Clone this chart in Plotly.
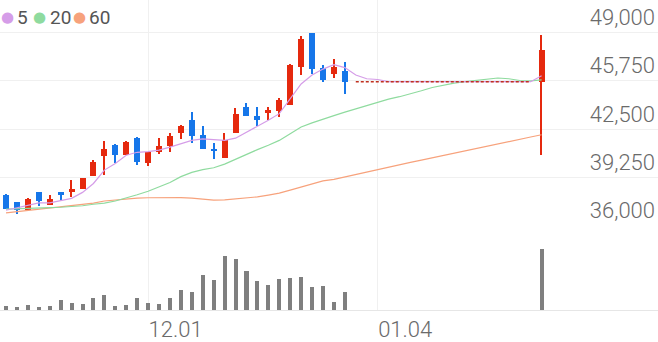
import plotly.graph_objects as go

# ---------------- data ----------------
day_idx = list(range(50))                      # trading-day index
tick_idx = [13, 34]
tick_labels = ["12.01", "01.04"]
price_ticks = [36000, 39250, 42500, 45750, 49000]

N = None
open_ = [38100, 37600, 37050, 38250, 37400, 38250, 38250, 38500, 39350, 40700,
         41450, 40800, 41900, 40200, 40950, 41350, 42250, 43150, 42100, 41200,
         40550, 42250, 44000, 43400, 43600, 43750, 44150, 46700, 49000, 46600,
         46200, 46450] + [N] * 17 + [45700]
high = [38150, 37600, 37850, 38250, 38100, 38250, 39100, 39250, 40400, 41700,
        41500, 41700, 41950, 41000, 41900, 42250, 42800, 43650, 42700, 41600,
        42250, 43950, 44250, 44000, 44000, 44600, 46900, 48800, 49000, 46800,
        47250, 47000] + [N] * 17 + [48850]
low = [37100, 36800, 37050, 37350, 37400, 37650, 37950, 38500, 39350, 39450,
       40200, 40750, 40100, 40000, 40850, 41000, 41850, 41600, 41150, 40500,
       40550, 42250, 43400, 42750, 43100, 43350, 44150, 46150, 46250, 45650,
       45950, 44850] + [N] * 17 + [40750]
close = [37150, 37050, 37800, 37650, 37800, 38050, 38500, 39200, 40300, 41200,
         40800, 41650, 40300, 40950, 41400, 42050, 42750, 42050, 41150, 41050,
         41800, 43500, 43400, 43100, 43800, 44450, 46850, 48600, 46550, 45800,
         46700, 45700] + [45700] * 17 + [47850]
volume = [43000, 33000, 53000, 37000, 43000, 107000, 73000, 63000, 123000, 153000,
          47000, 57000, 127000, 70000, 63000, 123000, 200000, 187000, 357000, 303000,
          543000, 513000, 393000, 293000, 253000, 317000, 327000, 333000, 237000, 247000,
          83000, 187000] + [0] * 17 + [613000]

ma5 = [37050, 37200, 37400, 37550, 37550, 37700, 37850, 38250, 38850, 39750,
       40200, 40750, 40950, 41000, 41100, 41300, 41500, 41750, 41850, 41800,
       41750, 41900, 42300, 42650, 43100, 43550, 44550, 45550, 46150, 46550,
       46850, 46650, 46150, 45900, 45850, 45700, 45700, 45700, 45700, 45700,
       45700, 45700, 45700, 45700, 45700, 45700, 45700, 45700, 45700, 46100]
ma20 = [37130, 37140, 37150, 37200, 37220, 37250, 37290, 37350, 37450, 37530,
        37670, 37870, 38090, 38330, 38600, 38910, 39310, 39600, 39780, 39910,
        40150, 40490, 40820, 41130, 41420, 41750, 42200, 42650, 42930, 43150,
        43420, 43650, 43870, 44130, 44350, 44530, 44690, 44870, 45090, 45310,
        45470, 45600, 45710, 45800, 45870, 45950, 45900, 45780, 45750, 45830]
ma60 = [36870, 36950, 37050, 37130, 37200, 37270, 37350, 37450, 37530, 37670,
        37750, 37820, 37870, 37890, 37910, 37910, 37900, 37870, 37780, 37730,
        37750, 37800, 37870, 37950, 38070, 38200, 38400, 38600, 38800, 39020,
        39130, 39300, 39470, 39630, 39800, 39950, 40100, 40270, 40420, 40580,
        40730, 40890, 41050, 41200, 41360, 41510, 41670, 41830, 41980, 42130]
ma_names = ["5", "20", "60"]

# ---------------- styles ----------------
RED = "#E5290E"
BLUE = "#1676E9"
C_MA5 = "#D59DE8"
C_MA20 = "#8FDB9F"
C_MA60 = "#F7A27C"
GRID = "#F0F0F0"
TXT = "#6A6A6A"
FONT = "Roboto"

traded = [i for i in day_idx if volume[i] > 0]
halted = [i for i in day_idx if volume[i] == 0]
cols = [RED if close[i] >= open_[i] else BLUE for i in traded]

fig = go.Figure()

# moving averages
for vals, c in [(ma60, C_MA60), (ma20, C_MA20), (ma5, C_MA5)]:
    fig.add_trace(go.Scatter(x=day_idx, y=vals, mode="lines",
                             line=dict(color=c, width=1.2),
                             hoverinfo="skip", showlegend=False,
                             xaxis="x", yaxis="y"))

# halted-period price line
fig.add_trace(go.Scatter(x=halted, y=[close[i] for i in halted], mode="lines",
                         line=dict(color="#C0301E", width=1.5, dash="3px,2px"),
                         hoverinfo="skip", showlegend=False,
                         xaxis="x", yaxis="y"))

# wicks
fig.add_trace(go.Bar(x=traded, y=[high[i] - low[i] for i in traded],
                     base=[low[i] for i in traded], width=0.12,
                     marker=dict(color=cols, line=dict(width=0)),
                     hoverinfo="skip", showlegend=False,
                     xaxis="x", yaxis="y"))
# bodies
fig.add_trace(go.Bar(x=traded, y=[max(abs(close[i] - open_[i]), 40) for i in traded],
                     base=[min(open_[i], close[i]) for i in traded], width=0.55,
                     marker=dict(color=cols, line=dict(width=0)),
                     hoverinfo="skip", showlegend=False,
                     xaxis="x", yaxis="y"))

# volume
fig.add_trace(go.Bar(x=day_idx, y=volume, width=0.37,
                     marker=dict(color="#7F7F7F", line=dict(width=0)),
                     hoverinfo="skip", showlegend=False,
                     xaxis="x2", yaxis="y2"))

split = 85 / 313
xr = [-0.55, 59.65]

# legend (dot + label), positions in pixels of the plot area
W, H = 658.0, 313.0
leg_y = 1 - 17.3 / H
dot_px = [7.0, 39.3, 79.3]
lab_px = [15.0, 47.7, 87.0]
annotations = []
for name, c, dx, lx in zip(ma_names, [C_MA5, C_MA20, C_MA60], dot_px, lab_px):
    annotations.append(dict(xref="paper", yref="paper", x=dx / W, y=leg_y,
                            xanchor="center", yanchor="middle", showarrow=False,
                            borderpad=0,
                            text="●", font=dict(family="DejaVu Sans", size=15, color=c)))
    annotations.append(dict(xref="paper", yref="paper", x=lx / W, y=leg_y,
                            xanchor="left", yanchor="middle", showarrow=False,
                            text=name, font=dict(family=FONT, size=19, color="#555555")))

fig.update_layout(
    width=658, height=342,
    margin=dict(l=0, r=0, t=0, b=29),
    paper_bgcolor="white", plot_bgcolor="white",
    barmode="overlay", bargap=0,
    hovermode=False,
    showlegend=False,
    font=dict(family=FONT, color=TXT),
    xaxis=dict(domain=[0, 1], range=xr, anchor="y", tickvals=tick_idx,
               showticklabels=False, showgrid=True, gridcolor=GRID, gridwidth=1,
               zeroline=False, ticks="", fixedrange=True),
    xaxis2=dict(domain=[0, 1], range=xr, anchor="y2", tickvals=tick_idx,
                ticktext=tick_labels, ticklabelposition="outside right",
                showgrid=True, gridcolor=GRID, gridwidth=1, zeroline=False,
                showline=True, linecolor="#E6E6E6", linewidth=1, ticks="",
                tickfont=dict(family=FONT, size=22, color=TXT, weight=300)),
    yaxis=dict(domain=[split, 1], range=[36000, 51200], side="right",
               anchor="x", tickvals=price_ticks, tickformat=",",
               ticklabelposition="inside top", showgrid=True, gridcolor=GRID,
               gridwidth=1, zeroline=False, ticks="",
               tickfont=dict(family=FONT, size=22, color=TXT, weight=300)),
    yaxis2=dict(domain=[0, split], range=[0, 850000], anchor="x2",
                showgrid=False, showticklabels=False, zeroline=False, ticks=""),
    annotations=annotations,
)

fig.write_html("out.html")
